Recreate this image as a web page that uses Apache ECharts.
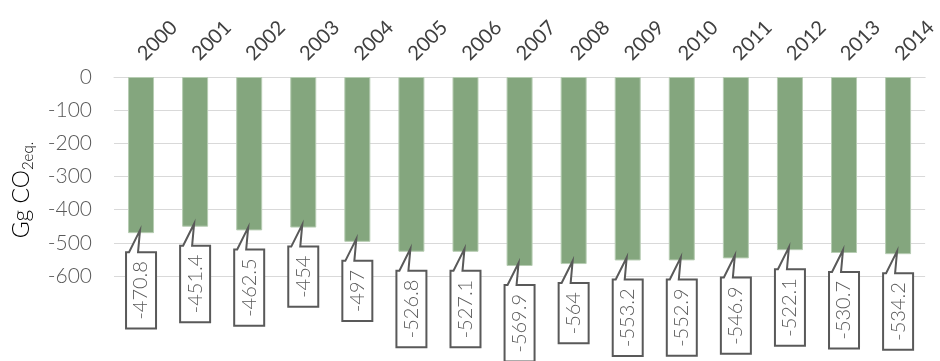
<!DOCTYPE html>
<html><head><meta charset="utf-8">
<script src="https://cdn.jsdelivr.net/npm/echarts@6/dist/echarts.min.js"></script>
<style>html,body{margin:0;padding:0;background:#fff}#c{width:940px;height:361px}</style>
</head><body><div id="c"></div>
<script>
const years = ['2000','2001','2002','2003','2004','2005','2006','2007','2008','2009','2010','2011','2012','2013','2014'];
const values = [-470.8,-451.4,-462.5,-454,-497,-526.8,-527.1,-569.9,-564,-553.2,-552.9,-546.9,-522.1,-530.7,-534.2];
const yTicks = [0,-100,-200,-300,-400,-500,-600];

const FONT = 'Lato';
const LFONT = '300 20px ' + FONT;
const mctx = document.createElement('canvas').getContext('2d');
mctx.font = LFONT;

const chart = echarts.init(document.getElementById('c'), null, {renderer:'canvas'});
chart.setOption({
  animation:false,
  grid:{left:114, right:12, top:77, bottom:85},
  xAxis:{type:'category', data:years, position:'top',
    axisLine:{show:true, lineStyle:{color:'#d9d9d9'}}, axisTick:{show:false},
    axisLabel:{rotate:45, margin:20, align:'left', verticalAlign:'middle', color:'#404040', fontFamily:FONT, fontWeight:400, fontSize:20, interval:0}},
  yAxis:{type:'value', min:-600, max:0, interval:100,
    axisLine:{show:false}, axisTick:{show:false},
    splitLine:{lineStyle:{color:'#d9d9d9', width:1}},
    axisLabel:{color:'#595959', fontFamily:FONT, fontWeight:300, fontSize:21, margin:22}},
  graphic:[{type:'text', x:22, y:190, rotation:Math.PI/2,
    style:{text:'{a|Gg CO}{b|2eq.}', align:'center', verticalAlign:'middle',
      rich:{a:{fontFamily:FONT, fontWeight:300, fontSize:23, color:'#6b6b6b'},
            b:{fontFamily:FONT, fontWeight:300, fontSize:15, color:'#6b6b6b', padding:[13,0,0,0]}}}}],
  series:[
    {type:'bar', data:values, barWidth:26,
      itemStyle:{color:'#84a67e', borderColor:'#b7cdb3', borderWidth:1}},
    {type:'custom', data:values.map((v,i)=>[i,v]), z:5,
      renderItem:function(params, api){
        const p = api.coord([api.value(0), api.value(1)]);
        const cx = p[0], yEnd = p[1];
        const txt = String(api.value(1));
        const tw = mctx.measureText(txt).width;
        const top = yEnd + 19, h = tw + 18, bot = top + h;
        const l = cx - 15, r = cx + 15;
        return {type:'group', children:[
          {type:'polygon', shape:{points:[[l,top],[cx-12,top],[cx-1,yEnd-3],[cx-3,top],[r,top],[r,bot],[l,bot]]},
            style:{fill:'#fff', stroke:'#595959', lineWidth:2}},
          {type:'text', x:cx, y:top+9, rotation:Math.PI/2,
            style:{text:txt, font:LFONT, fill:'#595959', align:'right', verticalAlign:'middle'}}
        ]};
      }}
  ]
});
</script></body></html>
